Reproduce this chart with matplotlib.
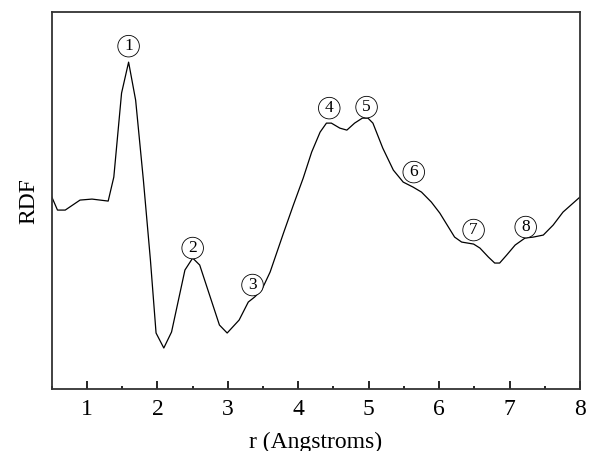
import matplotlib
matplotlib.use("Agg")
import matplotlib.pyplot as plt
from matplotlib.ticker import MultipleLocator

# radial distribution function (arbitrary units)
r = [0.5, 0.58, 0.69, 0.9, 1.07, 1.3, 1.38, 1.49, 1.59, 1.69, 1.8, 1.9,
     1.98, 2.09, 2.2, 2.39, 2.5, 2.6, 2.88, 2.99, 3.16, 3.29, 3.38, 3.48,
     3.6, 3.79, 3.93, 4.07, 4.19, 4.31, 4.4, 4.47, 4.59, 4.69, 4.8, 4.91,
     4.99, 5.06, 5.2, 5.35, 5.49, 5.63, 5.75, 5.89, 6.01, 6.22, 6.32, 6.49,
     6.58, 6.7, 6.79, 6.86, 6.96, 7.08, 7.22, 7.34, 7.48, 7.62, 7.76, 8.0]
rdf = [1.92, 1.79, 1.79, 1.89, 1.90, 1.88, 2.12, 2.96, 3.27, 2.89, 2.09, 1.29,
       0.56, 0.41, 0.57, 1.19, 1.31, 1.24, 0.64, 0.56, 0.69, 0.87, 0.92, 0.99,
       1.17, 1.56, 1.84, 2.11, 2.37, 2.57, 2.66, 2.66, 2.61, 2.59, 2.66, 2.71,
       2.71, 2.66, 2.41, 2.19, 2.07, 2.02, 1.97, 1.87, 1.76, 1.52, 1.47, 1.45,
       1.41, 1.32, 1.26, 1.26, 1.34, 1.44, 1.51, 1.52, 1.54, 1.64, 1.77, 1.92]

# circled peak labels
peak_labels = ["1", "2", "3", "4", "5", "6", "7", "8"]
peak_r = [1.59, 2.5, 3.35, 4.44, 4.97, 5.64, 6.49, 7.23]
peak_y = [3.43, 1.41, 1.04, 2.81, 2.82, 2.17, 1.59, 1.62]

plt.rcParams["font.family"] = ["Liberation Serif", "DejaVu Serif"]

fig = plt.figure(figsize=(5.96, 4.51), dpi=100)
ax = fig.add_axes([0.087, 0.1375, 0.886, 0.8355])

ax.plot(r, rdf, color="black", lw=0.9)

for lab, x, y in zip(peak_labels, peak_r, peak_y):
    ax.text(x, y, lab, fontsize=12.5, ha="center", va="center",
            bbox=dict(boxstyle="circle,pad=0.16", fc="white", ec="black", lw=0.6))

ax.set_xlim(0.5, 8)
ax.set_ylim(0, 3.77)
ax.xaxis.set_major_locator(MultipleLocator(1))
ax.xaxis.set_minor_locator(MultipleLocator(0.5))
ax.set_yticks([])
ax.tick_params(axis="x", which="major", direction="in", length=5.5, width=1.2,
               labelsize=17, pad=7)
ax.tick_params(axis="x", which="minor", direction="in", length=2.5, width=1.2)
for s in ax.spines.values():
    s.set_linewidth(1.3)
    s.set_color("#333333")

ax.set_xlabel("r (Angstroms)", fontsize=17, labelpad=9)
ax.set_ylabel("RDF", fontsize=17, labelpad=9)

fig.savefig("out.png", dpi=100)
plt.close(fig)
